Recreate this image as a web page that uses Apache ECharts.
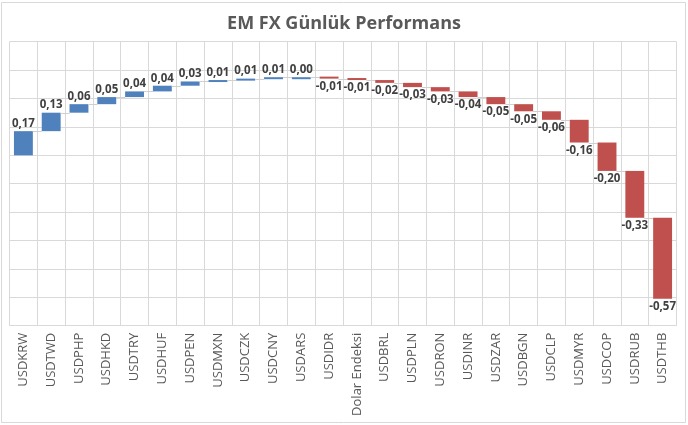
<!DOCTYPE html>
<html>
<head>
<meta charset="utf-8">
<script src="https://cdn.jsdelivr.net/npm/echarts@6/dist/echarts.min.js"></script>
<style>
html,body{margin:0;padding:0;background:#fff;}
#chart{width:688px;height:425px;}
</style>
</head>
<body>
<div id="chart"></div>
<script>
const categories = ['USDKRW','USDTWD','USDPHP','USDHKD','USDTRY','USDHUF','USDPEN','USDMXN','USDCZK','USDCNY','USDARS','USDIDR','Dolar Endeksi','USDBRL','USDPLN','USDRON','USDINR','USDZAR','USDBGN','USDCLP','USDMYR','USDCOP','USDRUB','USDTHB'];
const changes = [0.17,0.13,0.06,0.05,0.04,0.04,0.03,0.01,0.01,0.01,0.00,-0.01,-0.01,-0.02,-0.03,-0.03,-0.04,-0.05,-0.05,-0.06,-0.16,-0.20,-0.33,-0.57];

const FONT = '"Open Sans", "Noto Sans", sans-serif';
const rows = [];
let cum = 0;
changes.forEach((v, i) => {
  const start = cum;
  cum = +(cum + v).toFixed(4);
  rows.push([i, start, cum, v]);
});
const n = rows.length;

function fmt(v) { return v.toFixed(2).replace('.', ','); }

const chart = echarts.init(document.getElementById('chart'));
chart.setOption({
  animation: false,
  title: {
    text: 'EM FX Günlük Performans',
    left: 'center',
    top: 10,
    textStyle: { fontFamily: FONT, fontSize: 18, fontWeight: 'bold', color: '#595959' }
  },
  graphic: [{
    type: 'rect',
    shape: { x: 1.5, y: 2.5, width: 684, height: 420 },
    style: { fill: 'none', stroke: '#d9d9d9', lineWidth: 1 },
    silent: true
  }],
  grid: { left: 9.5, right: 11.5, top: 41.7, bottom: 99.3, containLabel: false },
  xAxis: {
    type: 'category',
    data: categories,
    boundaryGap: true,
    axisLine: { show: true, lineStyle: { color: '#d9d9d9' } },
    axisTick: { show: false },
    splitLine: { show: true, lineStyle: { color: '#d9d9d9' } },
    axisLabel: { rotate: 90, interval: 0, margin: 7, fontFamily: FONT, fontSize: 13, color: '#595959' }
  },
  yAxis: {
    type: 'value',
    min: -1.2, max: 0.8, interval: 0.2,
    axisLine: { show: false },
    axisTick: { show: false },
    axisLabel: { show: false },
    splitLine: { show: true, lineStyle: { color: '#d9d9d9' } }
  },
  series: [{
    type: 'custom',
    data: rows,
    encode: { x: 0, y: [1, 2] },
    renderItem: function (params, api) {
      const i = api.value(0), start = api.value(1), end = api.value(2), v = api.value(3);
      const p0 = api.coord([i, start]);
      const p1 = api.coord([i, end]);
      const w = api.size([1, 0])[0];
      const bw = w * 0.68;
      const up = v >= 0;
      let top = Math.min(p0[1], p1[1]);
      let h = Math.abs(p0[1] - p1[1]);
      if (h < 2) { h = 2; top = up ? p1[1] : p1[1] - 2; }
      const children = [{
        type: 'rect',
        shape: { x: p1[0] - bw / 2, y: top, width: bw, height: h },
        style: { fill: up ? '#4F81BD' : '#C0504D' }
      }, {
        type: 'text',
        style: {
          text: fmt(v),
          x: p1[0],
          y: up ? top - 1.5 : top + h + 2,
          align: 'center',
          verticalAlign: up ? 'bottom' : 'top',
          fill: '#404040',
          font: 'bold 11.5px ' + FONT
        },
        z2: 10
      }];
      if (i < n - 1) {
        const yc = Math.round(p1[1]) + 0.5;
        children.push({
          type: 'line',
          shape: { x1: p1[0] + bw / 2, y1: yc, x2: p1[0] + w - bw / 2, y2: yc },
          style: { stroke: '#d0d0d0', lineWidth: 1 }
        });
      }
      return { type: 'group', children: children };
    }
  }]
});
</script>
</body>
</html>
